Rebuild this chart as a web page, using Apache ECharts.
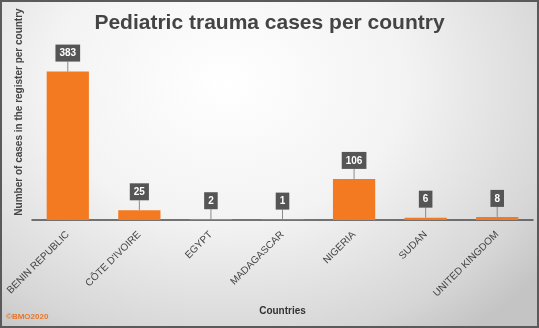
<!DOCTYPE html>
<html>
<head>
<meta charset="utf-8">
<script src="https://cdn.jsdelivr.net/npm/echarts@6/dist/echarts.min.js"></script>
<style>
  html, body { margin: 0; padding: 0; }
  #chart {
    width: 539px;
    height: 328px;
    box-sizing: border-box;
    border: 2px solid #5a5a5a;
    background: radial-gradient(ellipse 75% 95% at 42% 25%, #ffffff 0%, #f3f3f3 45%, #d6d6d6 85%, #c4c4c4 100%);
  }
</style>
</head>
<body>
<div id="chart"></div>
<script>
const countries = ['BENIN REPUBLIC', 'CÔTE D\'IVOIRE', 'EGYPT', 'MADAGASCAR', 'NIGERIA', 'SUDAN', 'UNITED KINGDOM']
const cases = [383, 25, 2, 1, 106, 6, 8]

const chart = echarts.init(document.getElementById('chart'))
const font = '"Liberation Sans", Arial, sans-serif'

function calloutItem(params, api) {
  const p = api.coord([api.value(0), api.value(1)])
  const top = p[1] - 10
  return {
    type: 'group',
    children: [
      {
        type: 'line',
        shape: { x1: p[0], y1: p[1], x2: p[0], y2: top },
        style: { stroke: '#8a8a8a', lineWidth: 1 }
      },
      {
        type: 'text',
        x: p[0],
        y: top,
        style: {
          text: String(api.value(1)),
          fill: '#ffffff',
          font: 'bold 10px ' + font,
          align: 'center',
          verticalAlign: 'bottom',
          backgroundColor: '#555555',
          padding: [4, 4, 3, 4]
        }
      }
    ]
  }
}

chart.setOption({
  animation: false,
  textStyle: { fontFamily: font },
  title: {
    text: 'Pediatric trauma cases per country',
    left: 'center',
    top: 6,
    textStyle: { color: '#444', fontSize: 21, fontWeight: 'bold', fontFamily: font }
  },
  grid: { left: 30, right: 4, top: 63, bottom: 106, containLabel: false },
  xAxis: {
    type: 'category',
    data: countries,
    name: 'Countries',
    nameLocation: 'middle',
    nameGap: 86,
    nameTextStyle: { color: '#333', fontSize: 10, fontWeight: 'bold' },
    axisLine: { lineStyle: { color: '#4a4a4a', width: 1.5 } },
    axisTick: { show: false },
    axisLabel: { color: '#444', fontSize: 10, rotate: 45, interval: 0, margin: 13 }
  },
  yAxis: {
    type: 'value',
    min: 0,
    max: 400,
    show: false
  },
  graphic: [
    {
      type: 'text',
      x: 17,
      y: 110,
      rotation: Math.PI / 2,
      style: {
        text: 'Number of cases in the register per country',
        fill: '#444',
        font: 'bold 10px ' + font,
        align: 'center',
        verticalAlign: 'middle'
      }
    },
    {
      type: 'text',
      left: 4,
      bottom: 5,
      style: {
        text: '©BMO2020',
        fill: '#e8762a',
        font: 'bold 8px ' + font
      }
    }
  ],
  series: [
    {
      type: 'bar',
      data: cases,
      barWidth: '59%',
      itemStyle: { color: '#f47a22' }
    },
    {
      type: 'custom',
      data: cases.map((v, i) => [i, v]),
      renderItem: calloutItem,
      z: 5
    }
  ]
})
</script>
</body>
</html>
